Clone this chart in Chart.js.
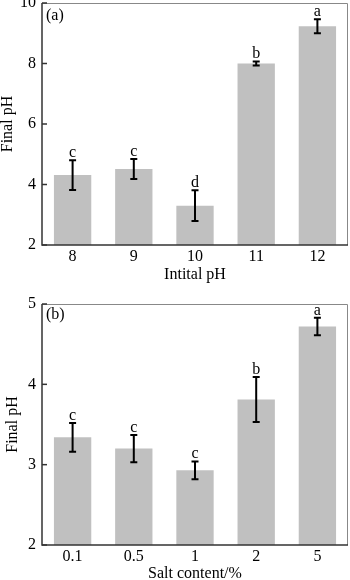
<!DOCTYPE html>
<html>
<head>
<meta charset="utf-8">
<script src="https://cdn.jsdelivr.net/npm/chart.js"></script>
<style>
  body { margin: 0; background: #fff; }
  .panel { width: 350px; height: 290px; }
</style>
</head>
<body>
<div class="panel"><canvas id="chartA" width="350" height="290"></canvas></div>
<div class="panel"><canvas id="chartB" width="350" height="290"></canvas></div>
<script>
// panel (a): initial pH
const phCategories = ['8', '9', '10', '11', '12'];
const phMeans = [4.31, 4.51, 3.30, 8.00, 9.23];
const phErrors = [0.49, 0.33, 0.51, 0.07, 0.23];
const phLetters = ['c', 'c', 'd', 'b', 'a'];
const phTicks = [2, 4, 6, 8, 10];

// panel (b): salt content
const saltCategories = ['0.1', '0.5', '1', '2', '5'];
const saltMeans = [3.34, 3.20, 2.93, 3.81, 4.72];
const saltErrors = [0.18, 0.17, 0.11, 0.28, 0.11];
const saltLetters = ['c', 'c', 'c', 'b', 'a'];
const saltTicks = [2, 3, 4, 5];

const serif = "'Liberation Serif', 'Times New Roman', serif";

// frame, inward ticks, error bars, letters, panel tag
const decorPlugin = {
  id: 'decor',
  afterDatasetsDraw(chart, args, opts) {
    const ctx = chart.ctx;
    const area = chart.chartArea;
    const y = chart.scales.y;
    const meta = chart.getDatasetMeta(0);
    ctx.save();

    // error bars
    ctx.strokeStyle = '#000';
    ctx.lineWidth = 2;
    meta.data.forEach((bar, i) => {
      const top = y.getPixelForValue(opts.means[i] + opts.errors[i]);
      const bot = y.getPixelForValue(opts.means[i] - opts.errors[i]);
      ctx.beginPath();
      ctx.moveTo(bar.x, top);
      ctx.lineTo(bar.x, bot);
      ctx.moveTo(bar.x - 3.5, top);
      ctx.lineTo(bar.x + 3.5, top);
      ctx.moveTo(bar.x - 3.5, bot);
      ctx.lineTo(bar.x + 3.5, bot);
      ctx.stroke();

      ctx.fillStyle = '#000';
      ctx.font = '16px ' + serif;
      ctx.textAlign = 'center';
      ctx.textBaseline = 'alphabetic';
      ctx.fillText(opts.letters[i], bar.x, top - 3);
    });

    // box: top/right lighter, left/bottom darker
    ctx.strokeStyle = '#888';
    ctx.lineWidth = 1;
    ctx.beginPath();
    ctx.moveTo(area.left, area.top + 0.5);
    ctx.lineTo(area.right - 0.5, area.top + 0.5);
    ctx.lineTo(area.right - 0.5, area.bottom);
    ctx.stroke();

    ctx.strokeStyle = '#333';
    ctx.lineWidth = 1.5;
    ctx.beginPath();
    ctx.moveTo(area.left, area.top);
    ctx.lineTo(area.left, area.bottom);
    ctx.lineTo(area.right, area.bottom);
    ctx.stroke();

    // inward y ticks
    y.ticks.forEach(t => {
      const py = y.getPixelForValue(t.value);
      ctx.beginPath();
      ctx.moveTo(area.left, py);
      ctx.lineTo(area.left + 5, py);
      ctx.stroke();
    });

    // panel tag
    ctx.fillStyle = '#000';
    ctx.font = '16px ' + serif;
    ctx.textAlign = 'left';
    ctx.textBaseline = 'alphabetic';
    ctx.fillText(opts.tag, area.left + 4, area.top + opts.tagOffset);
    ctx.restore();
  }
};

function makeChart(id, cfg) {
  return new Chart(document.getElementById(id), {
    type: 'bar',
    data: {
      labels: cfg.labels,
      datasets: [{
        data: cfg.means,
        backgroundColor: '#c0c0c0',
        borderWidth: 0,
        barPercentage: 0.61,
        categoryPercentage: 1
      }]
    },
    options: {
      responsive: false,
      animation: false,
      devicePixelRatio: 1,
      layout: { padding: { top: cfg.top, right: 2, left: 0, bottom: 0 } },
      plugins: {
        legend: { display: false },
        tooltip: { enabled: false },
        decor: {
          means: cfg.means, errors: cfg.errors, letters: cfg.letters,
          tag: cfg.tag, tagOffset: cfg.tagOffset
        }
      },
      scales: {
        x: {
          grid: { display: false, drawTicks: false },
          border: { display: false },
          ticks: { color: '#000', padding: 2, font: { family: serif, size: 16 } },
          title: {
            display: true, text: cfg.xTitle, color: '#000',
            font: { family: serif, size: 16, lineHeight: cfg.xTitleLH },
            padding: { top: 0, bottom: cfg.xTitlePad }
          },
          afterFit(scale) {
            scale.height = cfg.xHeight;
            scale.paddingLeft = 0;
            scale.paddingRight = 0;
          }
        },
        y: {
          min: cfg.ticks[0],
          max: cfg.ticks[cfg.ticks.length - 1],
          grid: { display: false, drawTicks: false },
          border: { display: false },
          ticks: { color: '#000', padding: 6, font: { family: serif, size: 16 } },
          afterBuildTicks(scale) {
            scale.ticks = cfg.ticks.map(v => ({ value: v }));
          },
          title: {
            display: true, text: 'Final pH', color: '#000',
            font: { family: serif, size: 16, lineHeight: 1 },
            padding: { top: cfg.yTitlePad, bottom: 0 }
          },
          afterFit(scale) {
            scale.width = 42;
            scale.paddingTop = 0;
            scale.paddingBottom = 0;
          }
        }
      }
    },
    plugins: [decorPlugin]
  });
}

makeChart('chartA', {
  labels: phCategories, means: phMeans, errors: phErrors, letters: phLetters,
  ticks: phTicks, tag: '(a)', tagOffset: 17, top: 3, xHeight: 45,
  xTitle: 'Intital pH', xTitleLH: 1.2, xTitlePad: 6, yTitlePad: 0
});

makeChart('chartB', {
  labels: saltCategories, means: saltMeans, errors: saltErrors, letters: saltLetters,
  ticks: saltTicks, tag: '(b)', tagOffset: 15, top: 14, xHeight: 35,
  xTitle: 'Salt content/%', xTitleLH: 0.75, xTitlePad: 0, yTitlePad: 5
});
</script>
</body>
</html>
